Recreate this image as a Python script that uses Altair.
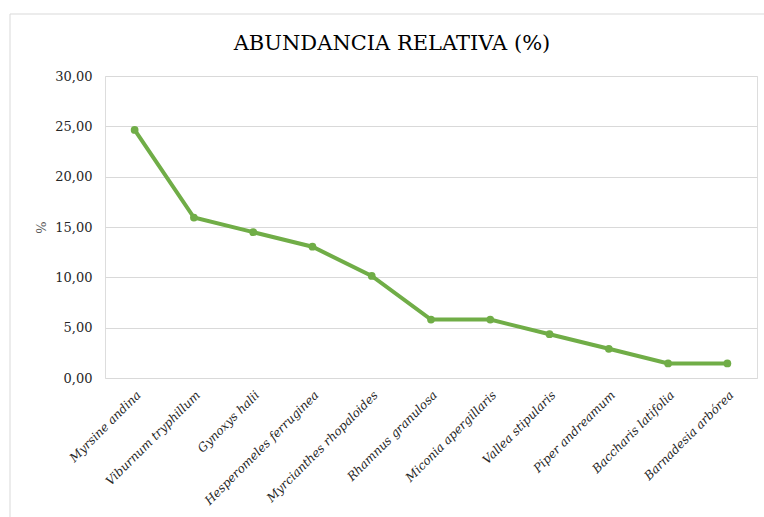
import altair as alt
import pandas as pd

species = [
    "Myrsine andina", "Viburnum tryphillum", "Gynoxys halii",
    "Hesperomeles ferruginea", "Myrcianthes rhopaloides", "Rhamnus granulosa",
    "Miconia apergillaris", "Vallea stipularis", "Piper andreamum",
    "Baccharis latifolia", "Barnadesia arbórea",
]
abundance = [24.64, 15.94, 14.49, 13.04, 10.14, 5.80, 5.80, 4.35, 2.90, 1.45, 1.45]
y_ticks = [0, 5, 10, 15, 20, 25, 30]
title_text = ["ABUNDANCIA RELATIVA (%)"]

df = pd.DataFrame({"especie": species, "abundancia": abundance})
df_title = pd.DataFrame({"t": title_text})

FONT = "DejaVu Serif"
GREEN = "#70AD47"

x_enc = alt.X(
    "especie:N", sort=species, title=None,
    scale=alt.Scale(type="point", padding=0.5),
    axis=alt.Axis(
        labelAngle=-45, labelAlign="right", labelBaseline="top",
        labelFont=FONT, labelFontSize=12, labelFontStyle="italic",
        labelColor="#262626", labelPadding=11, ticks=False, domain=False,
        grid=False, labelOverlap=False, labelLimit=400,
    ),
)
y_enc = alt.Y(
    "abundancia:Q", title="%",
    scale=alt.Scale(domain=[0, 30], nice=False),
    axis=alt.Axis(
        values=y_ticks, format=".2f", labelExpr="replace(datum.label, '.', ',')",
        labelFont=FONT, labelFontSize=13, labelColor="#262626",
        labelPadding=13, ticks=False, domain=False,
        grid=True, gridColor="#d9d9d9", gridWidth=1,
        titleFont=FONT, titleFontSize=13, titleFontWeight="normal",
        titleColor="#595959", titlePadding=6,
    ),
)

line = alt.Chart(df).mark_line(color=GREEN, strokeWidth=4).encode(x=x_enc, y=y_enc)
pts = alt.Chart(df).mark_point(filled=True, color=GREEN, size=60, opacity=1).encode(
    x=x_enc, y=y_enc
)

border_v = alt.Chart(df_title).mark_rule(color="#d9d9d9", strokeWidth=1).encode(
    x=alt.value(-95), y=alt.value(-62), y2=alt.value(460)
)
border_h = alt.Chart(df_title).mark_rule(color="#d9d9d9", strokeWidth=1).encode(
    x=alt.value(-95), x2=alt.value(680), y=alt.value(-62)
)
title = alt.Chart(df_title).mark_text(
    font=FONT, fontSize=21, color="#000000", align="center", baseline="alphabetic"
).encode(x=alt.value(287), y=alt.value(-26), text="t:N")

chart = alt.layer(border_v, border_h, title, line, pts).properties(
    width=652, height=302,
    autosize=alt.AutoSizeParams(type="none"),
    padding={"left": 105, "top": 76, "right": 7, "bottom": 139},
).configure_view(stroke=None).configure(background="white")

chart.save("out.html", embed_options={"renderer": "svg", "actions": False})
